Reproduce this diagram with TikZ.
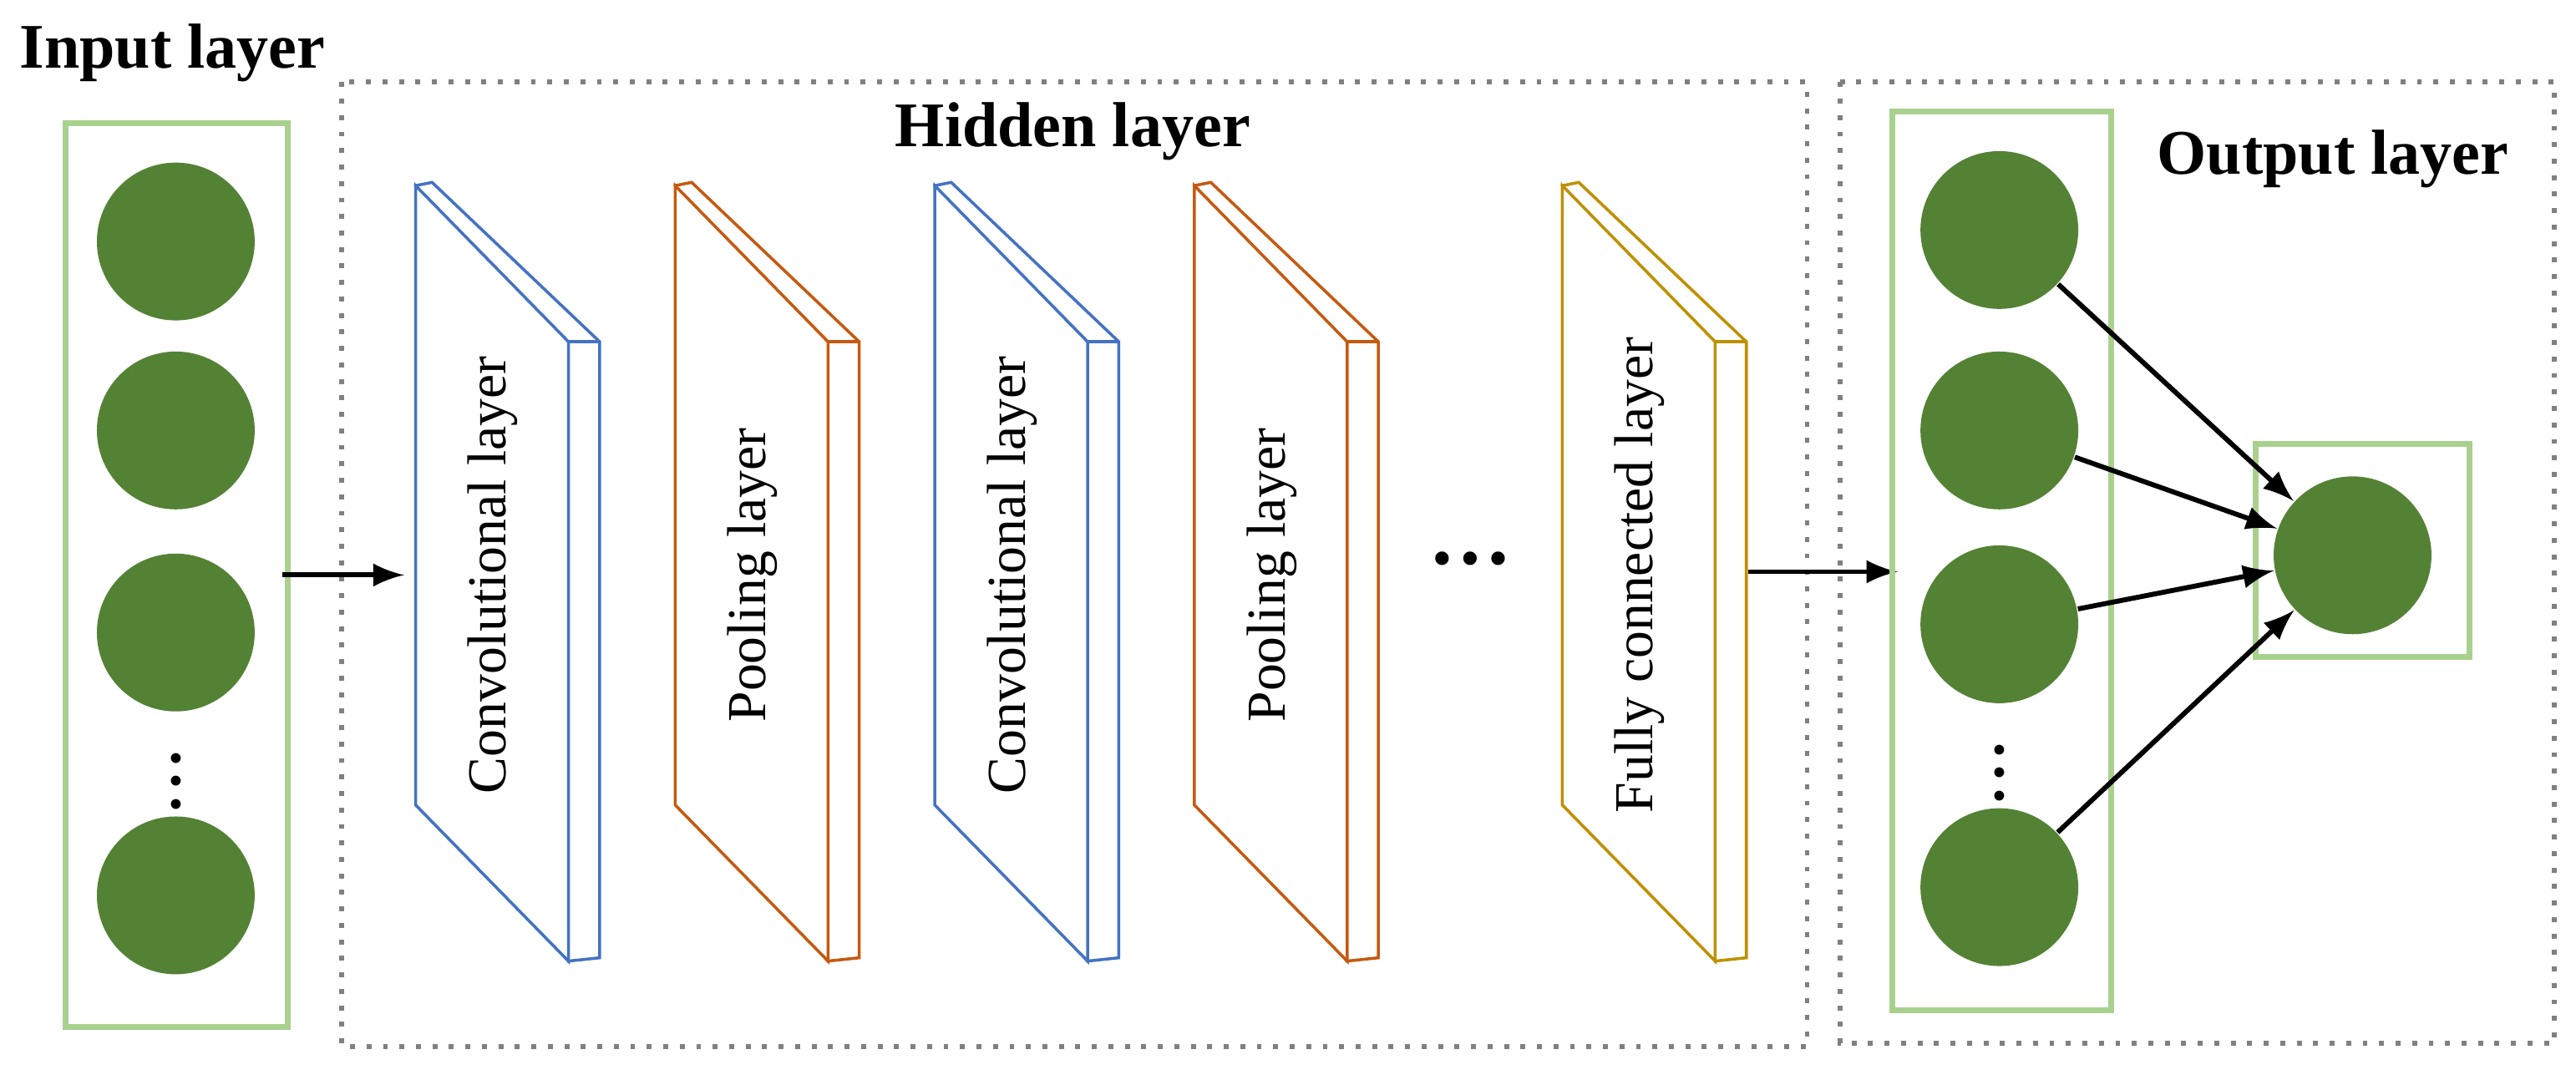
\documentclass[tikz,border=0pt]{standalone}
\usepackage{fontspec}
\setmainfont{Liberation Serif}
\definecolor{nodegreen}{HTML}{548235}
\definecolor{boxgreen}{HTML}{A9D18E}
\definecolor{convblue}{HTML}{4472C4}
\definecolor{poolorange}{HTML}{C55A11}
\definecolor{fcgold}{HTML}{BF9000}
\tikzset{
    neuron/.style={circle, fill=nodegreen, minimum size=0.96cm, inner sep=0pt},
    layerbox/.style={draw=boxgreen, line width=0.035cm},
    region/.style={draw=gray, dotted, line width=0.03cm},
    title/.style={font=\fontsize{11}{13}\selectfont\bfseries},
    slabtext/.style={rotate=90, font=\fontsize{9.5}{11}\selectfont},
    vdots/.style={font=\Large, inner sep=0pt},
    flow/.style={->, >=latex, line width=0.03cm},
    slab/.pic = {
        \draw[line width=0.018cm, fill=white] (0,0) -- (10,-2) -- (112,95) -- (112,470) -- (93,472) -- cycle;
        \draw[line width=0.018cm, fill=white] (0,0) -- (93,95) -- (93,472) -- (0,377) -- cycle;
        \draw[line width=0.018cm] (93,95) -- (112,95);
    }
}

\begin{document}
\begin{tikzpicture}[x=0.01cm, y=-0.01cm]
\useasboundingbox (0,0) rectangle (1568,654);

% regions
\draw[region] (208,50) rectangle (1100,637);
\draw[region] (1120,50) rectangle (1555,635);
\node[title] (tin) at (105,32) {Input layer};
\node[title] (thid) at (653,80) {Hidden layer};
\node[title] (tout) at (1420,97) {Output layer};

% input layer
\draw[layerbox] (40,75) rectangle (175,625);
\node[neuron] (i1) at (107,147) {};
\node[neuron] (i2) at (107,262) {};
\node[neuron] (i3) at (107,385) {};
\node[neuron] (i4) at (107,545) {};
\node[vdots] (idots) at (107,465) {$\vdots$};

% hidden layer
\pic[color=convblue] at (253,113) {slab};
\pic[color=poolorange] at (411,113) {slab};
\pic[color=convblue] at (569,113) {slab};
\pic[color=poolorange] at (727,113) {slab};
\pic[color=fcgold] at (951,113) {slab};
\node[slabtext] (c1) at (300,350) {Convolutional layer};
\node[slabtext] (p1) at (458,350) {Pooling layer};
\node[slabtext] (c2) at (616,350) {Convolutional layer};
\node[slabtext] (p2) at (774,350) {Pooling layer};
\node[slabtext] (fc) at (998,350) {Fully connected layer};
\node[font=\Large\bfseries] (hdots) at (895,340) {…};
\coordinate (hin) at (172,350);
\coordinate (hfirst) at (246,350);
\coordinate (hlast) at (1064,348);
\coordinate (oin) at (1155,348);
\draw[flow] (hin) -- (hfirst);
\draw[flow] (hlast) -- (oin);

% output layer
\draw[layerbox] (1152,68) rectangle (1285,615);
\draw[layerbox] (1373,270) rectangle (1503,400);
\node[neuron] (o1) at (1217,140) {};
\node[neuron] (o2) at (1217,262) {};
\node[neuron] (o3) at (1217,380) {};
\node[neuron] (o4) at (1217,540) {};
\node[vdots] (odots) at (1217,460) {$\vdots$};
\node[neuron] (y) at (1432,338) {};
\draw[flow] (o1) -- (y);
\draw[flow] (o2) -- (y);
\draw[flow] (o3) -- (y);
\draw[flow] (o4) -- (y);
\end{tikzpicture}
\end{document}
